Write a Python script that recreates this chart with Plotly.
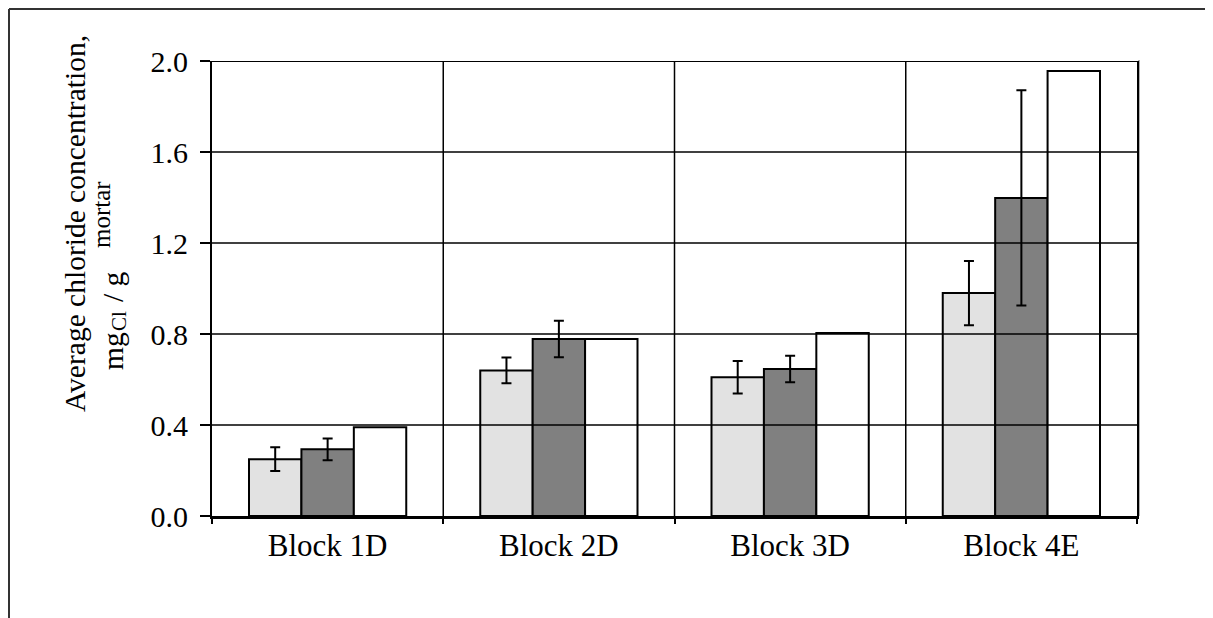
import plotly.graph_objects as go

# ---- data ----
categories = ["Block 1D", "Block 2D", "Block 3D", "Block 4E"]
light_values = [0.25, 0.64, 0.61, 0.98]
light_errors = [0.052, 0.057, 0.071, 0.141]
dark_values = [0.293, 0.778, 0.646, 1.398]
dark_errors = [0.048, 0.080, 0.058, 0.473]
white_values = [0.39, 0.778, 0.804, 1.956]
y_ticks = [0.0, 0.4, 0.8, 1.2, 1.6, 2.0]
y_tick_labels = ["0.0", "0.4", "0.8", "1.2", "1.6", "2.0"]

# ---- geometry (screen pixels; page body has an 8px margin) ----
OFF = 8
W, H = 1213, 618
L, R, T, B = 212, 1137, 61, 516
pw, ph = R - L, B - T


def px_x(p):
    return (p - L) / pw


def px_y(p):
    return (B - p) / ph


FONT = "Liberation Serif"

fig = go.Figure()
fig.add_trace(go.Bar(
    x=categories, y=light_values, name="Series 1",
    marker=dict(color="#e2e2e2", line=dict(color="black", width=2)),
    error_y=dict(type="data", array=light_errors, visible=True,
                 color="black", thickness=2, width=5),
))
fig.add_trace(go.Bar(
    x=categories, y=dark_values, name="Series 2",
    marker=dict(color="#808080", line=dict(color="black", width=2)),
    error_y=dict(type="data", array=dark_errors, visible=True,
                 color="black", thickness=2, width=5),
))
fig.add_trace(go.Bar(
    x=categories, y=white_values, name="Series 3",
    marker=dict(color="white", line=dict(color="black", width=2)),
))

shapes = []
# horizontal gridlines drawn above bars (as in the reference)
for v in y_ticks[1:]:
    shapes.append(dict(type="line", layer="above", xref="paper", yref="y",
                       x0=0, x1=1, y0=v, y1=v,
                       line=dict(color="black", width=2 if v == y_ticks[-1] else 1.5)))
# vertical gridlines at category boundaries
for i in range(1, len(categories)):
    shapes.append(dict(type="line", layer="above", xref="x", yref="paper",
                       x0=i - 0.5, x1=i - 0.5, y0=0, y1=1,
                       line=dict(color="black", width=1.5)))
# right-edge shadow
shapes.append(dict(type="line", layer="below", xref="paper", yref="paper",
                   x0=px_x(R + 2), x1=px_x(R + 2), y0=0, y1=px_y(T - 1),
                   line=dict(color="#b0b0b0", width=2)))
# outer frame (top + left visible)
shapes.append(dict(type="line", xref="paper", yref="paper",
                   x0=px_x(9), x1=px_x(W + 5), y0=px_y(9), y1=px_y(9),
                   line=dict(color="#333333", width=2)))
shapes.append(dict(type="line", xref="paper", yref="paper",
                   x0=px_x(9), x1=px_x(9), y0=px_y(9), y1=px_y(H + 5),
                   line=dict(color="#333333", width=2)))


def vtext(text, x, y, size):
    return dict(text=text, textangle=-90, xref="paper", yref="paper",
                x=px_x(x), y=px_y(y), xanchor="center", yanchor="middle",
                showarrow=False, font=dict(family=FONT, size=size, color="black"))


annotations = [
    vtext("Average chloride concentration,", 75, 224, 29.5),
    vtext("mg", 113, 351, 29.5),
    vtext("Cl", 119, 321, 21),
    vtext("/ g", 113, 287, 29.5),
    vtext("mortar", 101, 215, 25),
]

fig.update_layout(
    width=W - OFF, height=H - OFF,
    margin=dict(l=L - OFF, r=W - R, t=T - OFF, b=H - B, pad=0),
    paper_bgcolor="white", plot_bgcolor="white",
    barmode="group", bargap=0.32, bargroupgap=0,
    showlegend=False,
    font=dict(family=FONT, color="black"),
    shapes=shapes, annotations=annotations,
    xaxis=dict(type="category", categoryorder="array", categoryarray=categories,
               tickson="boundaries", ticks="outside", ticklen=5, tickwidth=2,
               tickcolor="black", showgrid=False, showline=True, linewidth=3,
               linecolor="black", mirror=False, layer="above traces",
               tickfont=dict(family=FONT, size=31, color="black")),
    yaxis=dict(range=[0, 2.0], tickvals=y_ticks, ticktext=y_tick_labels,
               ticks="outside", ticklen=10, tickwidth=2, tickcolor="black",
               showgrid=False, zeroline=False, showline=True, linewidth=2,
               linecolor="black", mirror=True, layer="above traces",
               ticklabelstandoff=6,
               tickfont=dict(family=FONT, size=30, color="black")),
)

fig.write_html("out.html")
